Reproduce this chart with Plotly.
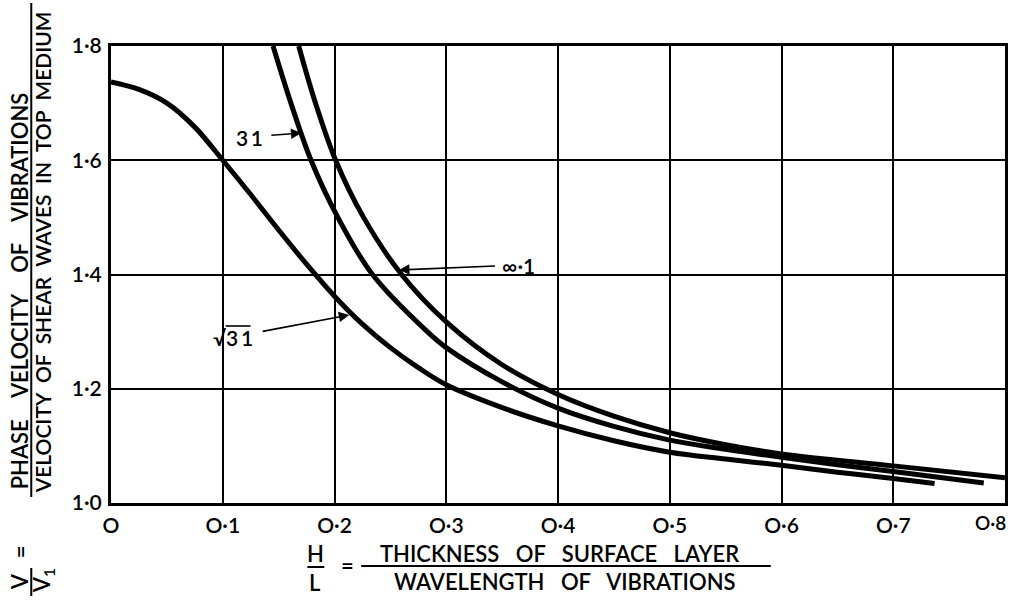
import plotly.graph_objects as go

# H/L values and phase-velocity ratios V/V1 for each rigidity ratio
x_sqrt3 = [0.0, 0.025, 0.05, 0.075, 0.1, 0.125, 0.15, 0.175, 0.2, 0.225, 0.25, 0.275, 0.3,
           0.35, 0.4, 0.45, 0.5, 0.55, 0.6, 0.65, 0.7, 0.737]
y_sqrt3 = [1.737, 1.724, 1.700, 1.658, 1.600, 1.540, 1.478, 1.418, 1.362, 1.313, 1.272, 1.237, 1.207,
           1.167, 1.135, 1.109, 1.089, 1.077, 1.066, 1.054, 1.043, 1.034]

x_three = [0.145, 0.161, 0.179, 0.203, 0.234, 0.283, 0.3, 0.35, 0.4, 0.45, 0.5, 0.55, 0.6, 0.65, 0.7, 0.781]
y_three = [1.80, 1.70, 1.60, 1.50, 1.40, 1.30, 1.272, 1.212, 1.166, 1.134, 1.110, 1.094, 1.080, 1.067, 1.055, 1.035]

x_inf = [0.168, 0.183, 0.201, 0.226, 0.260, 0.3, 0.35, 0.4, 0.45, 0.5, 0.55, 0.6, 0.7, 0.8]
y_inf = [1.80, 1.70, 1.60, 1.50, 1.40, 1.317, 1.242, 1.19, 1.152, 1.123, 1.102, 1.086, 1.065, 1.044]

x_ticks = [0.0, 0.1, 0.2, 0.3, 0.4, 0.5, 0.6, 0.7, 0.8]
x_ticklabels = ["O", "O·1", "O·2", "O·3", "O·4", "O·5", "O·6", "O·7", "O·8"]
y_ticks = [1.0, 1.2, 1.4, 1.6, 1.8]
y_ticklabels = ["1·0", "1·2", "1·4", "1·6", "1·8"]

FONT = "Lato"
INK = "#000000"
WEIGHT = 600

# plot-area geometry in page pixels, used to place the free-standing text
L, R, T, B = 111, 1008, 46, 503
W, H = R - L, B - T


def px(xp):
    return (xp - L) / W


def py(yp):
    return (B - yp) / H


def fnt(size):
    return dict(family=FONT, size=size, color=INK, weight=WEIGHT)


fig = go.Figure()
for xs, ys in [(x_sqrt3, y_sqrt3), (x_three, y_three), (x_inf, y_inf)]:
    fig.add_trace(go.Scatter(
        x=xs, y=ys, mode="lines",
        line=dict(color=INK, width=5, shape="spline", smoothing=1.0),
        showlegend=False, hoverinfo="skip",
    ))

ann = []


def text(xp, yp, s, size=22, angle=0, xanchor="center"):
    ann.append(dict(x=px(xp), y=py(yp), xref="paper", yref="paper", text=s,
                    showarrow=False, textangle=angle, xanchor=xanchor, yanchor="middle",
                    font=fnt(size)))


def label(s, centre, tip, pad, size=21):
    # curve label with a leader arrow ending on the curve
    ann.append(dict(x=px(tip[0]), y=py(tip[1]), xref="paper", yref="paper", text=s,
                    showarrow=True, arrowhead=2, arrowsize=1.3, arrowwidth=1.6,
                    arrowcolor=INK, borderpad=pad,
                    ax=centre[0] - tip[0], ay=centre[1] - tip[1],
                    font=fnt(size)))


# curve labels
label("3\u20091", (250, 137), (302, 133), 8)
label("∞·1", (519, 265), (400, 270), 6)
label("√3\u20091", (234, 337), (350, 315), 9)

# last x tick label, kept inside the page edge
text(1011, 522, x_ticklabels[-1], size=19, xanchor="right")

# x-axis title as a stacked fraction
nb3 = "\u00a0" * 3
text(316, 553, "H")
text(316, 582, "L")
text(348, 565, "=")
text(561, 553, nb3.join(["THICKNESS", "OF", "SURFACE", "LAYER"]))
text(567, 581, nb3.join(["WAVELENGTH", "OF", "VIBRATIONS"]))

# y-axis title as a stacked fraction, rotated
nb4 = "\u00a0" * 4
nb2 = "\u00a0" * 2
text(19, 291, nb4.join(["PHASE", "VELOCITY", "OF", "VIBRATIONS"]), angle=-90)
text(43, 252, nb2.join(["VELOCITY", "OF", "SHEAR", "WAVES", "IN", "TOP", "MEDIUM"]), size=21, angle=-90)
text(20, 552, "=", angle=-90)
text(19, 582, "V", angle=-90)
text(43, 581, "V<sub>1</sub>", angle=-90)

shapes = []


def seg(x0, y0, x1, y1, w=2):
    shapes.append(dict(type="line", xref="paper", yref="paper",
                       x0=px(x0), y0=py(y0), x1=px(x1), y1=py(y1),
                       line=dict(color=INK, width=w)))


seg(308, 567, 325, 567)       # H over L
seg(362, 566, 773, 566)       # numerator bar, x title
seg(31, 3, 31, 497)           # numerator bar, y title
seg(31, 568, 31, 596)         # V over V1
seg(226, 326, 251, 326, 1.6)  # radical overline

fig.update_layout(
    width=1013, height=600,
    margin=dict(l=L, r=1013 - R, t=T, b=600 - B),
    paper_bgcolor="white", plot_bgcolor="white",
    annotations=ann, shapes=shapes,
    font=fnt(20),
)
fig.update_xaxes(
    range=[0, 0.8], tickvals=x_ticks[:-1], ticktext=x_ticklabels[:-1],
    showgrid=True, gridcolor=INK, gridwidth=2, zeroline=False,
    showline=True, linecolor=INK, linewidth=3, mirror=True,
    ticks="", ticklabelstandoff=2,
    tickfont=fnt(21),
)
fig.update_yaxes(
    range=[1.0, 1.8], tickvals=y_ticks, ticktext=y_ticklabels,
    showgrid=True, gridcolor=INK, gridwidth=2, zeroline=False,
    showline=True, linecolor=INK, linewidth=3, mirror=True,
    ticks="", ticklabelstandoff=2,
    tickfont=fnt(21),
)

fig.write_html("out.html")
